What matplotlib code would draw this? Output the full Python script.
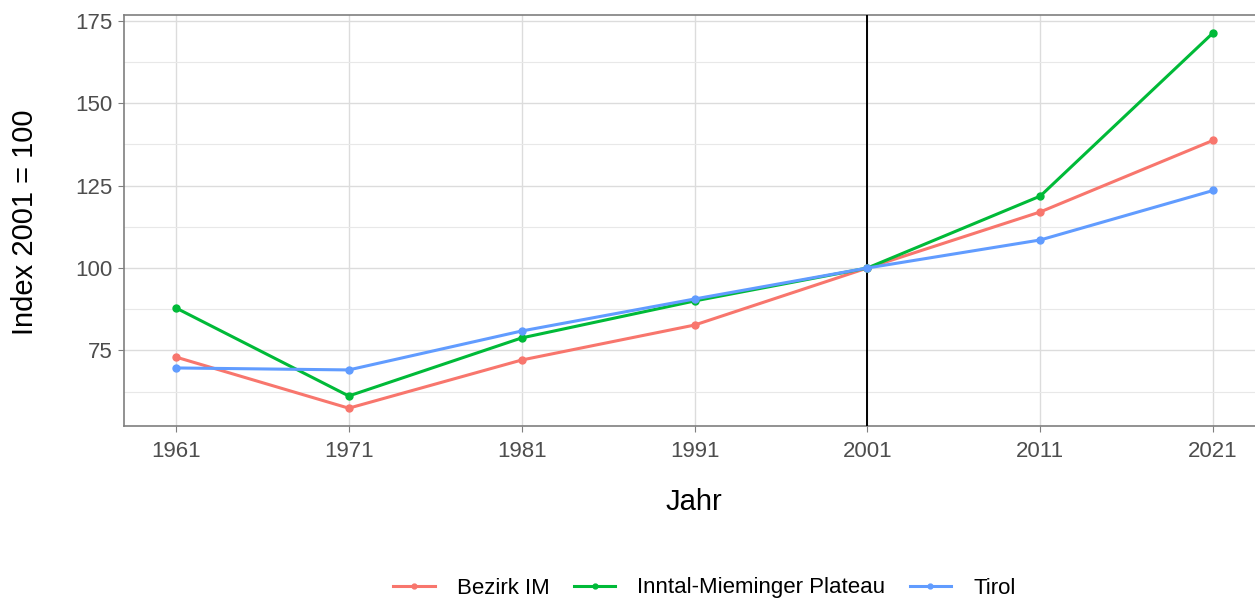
# load libraries
import matplotlib.pyplot as plt
from matplotlib.ticker import MultipleLocator

plt.rcParams['font.family'] = ['Liberation Sans', 'DejaVu Sans']

# data
jahre = [1961, 1971, 1981, 1991, 2001, 2011, 2021]
bezirk_im = [73.0, 57.5, 72.1, 82.7, 100.0, 117.0, 138.7]
inntal = [87.9, 61.2, 78.8, 90.0, 100.0, 121.8, 171.3]
tirol = [69.7, 69.1, 80.9, 90.6, 100.0, 108.5, 123.5]

namen = ['Bezirk IM', 'Inntal-Mieminger Plateau', 'Tirol']
farben = ['#F8766D', '#00BA38', '#619CFF']

# figure with panel reaching past right edge like the original
fig = plt.figure(figsize=(12.55, 6), dpi=100)
ax = fig.add_axes([124 / 1255, 1 - 426 / 600, (1265 - 124) / 1255, (426 - 15) / 600])

# grid lines
ax.set_axisbelow(True)
ax.yaxis.set_major_locator(MultipleLocator(25))
ax.yaxis.set_minor_locator(MultipleLocator(12.5))
ax.set_xticks(jahre)
ax.grid(which='major', color='#DCDCDC', linewidth=1.0)
ax.grid(which='minor', axis='y', color='#E8E8E8', linewidth=0.8)

# reference line at 2001
ax.axvline(2001, color='black', linewidth=1.4, zorder=3)

for werte, name, farbe in zip([bezirk_im, inntal, tirol], namen, farben):
  ax.plot(jahre, werte, color=farbe, linewidth=2.2, marker='o', markersize=5,
          label=name, zorder=4)

ax.set_xlim(1958, 2024)
ax.set_ylim(52.1, 176.7)

# panel border and ticks
for s in ax.spines.values():
  s.set_color('#7F7F7F')
  s.set_linewidth(1.2)
ax.tick_params(which='major', length=4, color='#7F7F7F', labelcolor='#4D4D4D',
               labelsize=16, pad=4)
ax.tick_params(axis='x', which='major', pad=7)
ax.tick_params(which='minor', length=0)

# axis titles
ax.set_xlabel('Jahr', fontsize=21, va='center')
ax.set_ylabel('Index 2001 = 100', fontsize=21, va='center')
ax.xaxis.set_label_coords((694 - 124) / 1141, -(502 - 426) / 411)
ax.yaxis.set_label_coords(-(124 - 25) / 1141, (426 - 222) / 411)

# legend at the bottom
fig.legend(loc='center', bbox_to_anchor=(704.5 / 1255, 1 - 588 / 600), ncol=3,
           frameon=False, fontsize=16, handlelength=1.85, columnspacing=1.1,
           handletextpad=1.0, markerscale=0.7)

plt.savefig('out.png', dpi=100)
